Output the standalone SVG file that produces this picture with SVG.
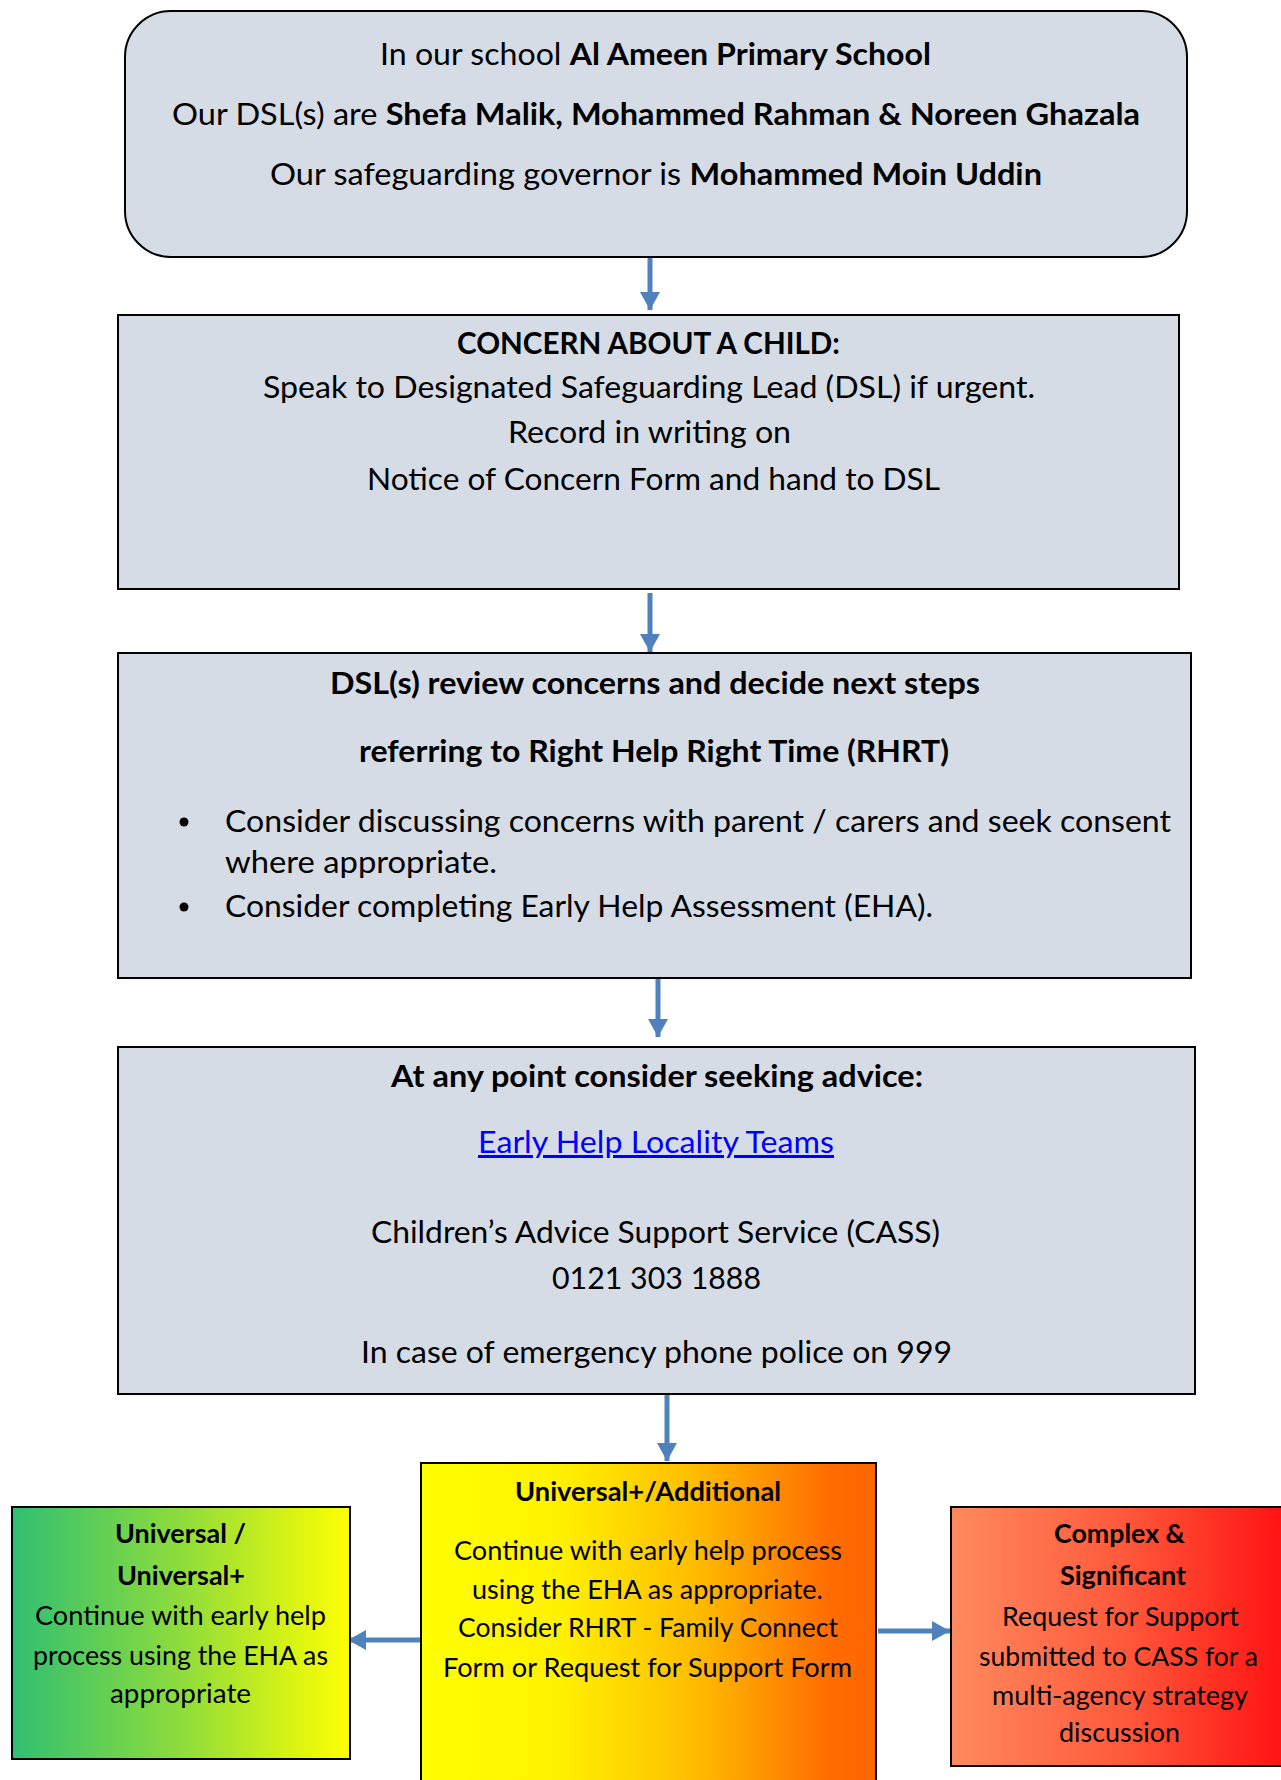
<svg xmlns="http://www.w3.org/2000/svg" width="1281" height="1780" viewBox="0 0 1281 1780">
<style>
  .box { fill: #d6dce5; stroke: #000; stroke-width: 2; }
  .lvl { stroke: #000; stroke-width: 2; }
  .t { font-family: Lato, "Open Sans", "Liberation Sans", sans-serif; font-size: 30px; fill: #000; text-anchor: middle; }
  .l { text-anchor: start; }
  .s { font-family: Lato, "Open Sans", "Liberation Sans", sans-serif; font-size: 26.5px; fill: #000; text-anchor: middle; }
  .b { font-weight: bold; }
  .link { fill: #0000ff; text-decoration: underline; }
  .arrow { stroke: #4f81bd; stroke-width: 5; fill: none; marker-end: url(#ah); }
</style>
<defs>
  <marker id="ah" markerUnits="userSpaceOnUse" markerWidth="18" markerHeight="20" refX="18" refY="10" orient="auto">
    <path d="M0,0 L18,10 L0,20 z" fill="#4f81bd"/>
  </marker>
  <linearGradient id="gGreen" x1="0" y1="0" x2="1" y2="0">
    <stop offset="0" stop-color="#30bf72"/>
    <stop offset="0.5" stop-color="#8edc3c"/>
    <stop offset="1" stop-color="#ffff00"/>
  </linearGradient>
  <linearGradient id="gYellow" x1="0" y1="0" x2="1" y2="0">
    <stop offset="0" stop-color="#ffff00"/>
    <stop offset="0.3" stop-color="#fff200"/>
    <stop offset="0.6" stop-color="#ffbd00"/>
    <stop offset="0.9" stop-color="#ff6c00"/>
    <stop offset="1" stop-color="#ff6600"/>
  </linearGradient>
  <linearGradient id="gRed" x1="0" y1="0" x2="1" y2="0">
    <stop offset="0" stop-color="#ff8a5e"/>
    <stop offset="0.5" stop-color="#ff5a3c"/>
    <stop offset="1" stop-color="#ff1010"/>
  </linearGradient>
</defs>

<g id="connectors">
  <line class="arrow" x1="650" y1="250" x2="650" y2="310"/>
  <line class="arrow" x1="650" y1="593" x2="650" y2="652"/>
  <line class="arrow" x1="658" y1="978" x2="658" y2="1037"/>
  <line class="arrow" x1="667" y1="1395" x2="667" y2="1461"/>
  <line class="arrow" x1="421" y1="1640" x2="348" y2="1640"/>
  <line class="arrow" x1="878" y1="1631" x2="950" y2="1631"/>
</g>

<g id="school-info">
  <rect class="box" x="125" y="11" width="1062" height="246" rx="46" ry="46"/>
  <text class="t" x="655.5" y="65" textLength="551" lengthAdjust="spacingAndGlyphs">In our school <tspan class="b">Al Ameen Primary School</tspan></text>
  <text class="t" x="656" y="125" textLength="968" lengthAdjust="spacingAndGlyphs">Our DSL(s) are <tspan class="b">Shefa Malik, Mohammed Rahman &amp; Noreen Ghazala</tspan></text>
  <text class="t" x="656" y="185" textLength="772" lengthAdjust="spacingAndGlyphs">Our safeguarding governor is <tspan class="b">Mohammed Moin Uddin</tspan></text>
</g>

<g id="concern">
  <rect class="box" x="118" y="315" width="1061" height="274"/>
  <text class="t b" x="648.5" y="354" textLength="383" lengthAdjust="spacingAndGlyphs">CONCERN ABOUT A CHILD:</text>
  <text class="t" x="649" y="398" textLength="772" lengthAdjust="spacingAndGlyphs">Speak to Designated Safeguarding Lead (DSL) if urgent.</text>
  <text class="t" x="649.5" y="443" textLength="283" lengthAdjust="spacingAndGlyphs">Record in writing on</text>
  <text class="t" x="653.5" y="490" textLength="573" lengthAdjust="spacingAndGlyphs">Notice of Concern Form and hand to DSL</text>
</g>

<g id="dsl-review">
  <rect class="box" x="118" y="653" width="1073" height="325"/>
  <text class="t b" x="655" y="694" textLength="650" lengthAdjust="spacingAndGlyphs">DSL(s) review concerns and decide next steps</text>
  <text class="t b" x="654" y="762" textLength="590" lengthAdjust="spacingAndGlyphs">referring to Right Help Right Time (RHRT)</text>
  <circle cx="184" cy="822" r="4.5" fill="#000"/>
  <text class="t l" x="225" y="832" textLength="946" lengthAdjust="spacingAndGlyphs">Consider discussing concerns with parent / carers and seek consent</text>
  <text class="t l" x="225" y="873" textLength="272" lengthAdjust="spacingAndGlyphs">where appropriate.</text>
  <circle cx="184" cy="907" r="4.5" fill="#000"/>
  <text class="t l" x="225" y="917" textLength="708" lengthAdjust="spacingAndGlyphs">Consider completing Early Help Assessment (EHA).</text>
</g>

<g id="advice">
  <rect class="box" x="118" y="1047" width="1077" height="347"/>
  <text class="t b" x="657" y="1087" textLength="532" lengthAdjust="spacingAndGlyphs">At any point consider seeking advice:</text>
  <text class="t link" x="656" y="1153" textLength="356" lengthAdjust="spacingAndGlyphs">Early Help Locality Teams</text>
  <text class="t" x="655.5" y="1243" textLength="569" lengthAdjust="spacingAndGlyphs">Children’s Advice Support Service (CASS)</text>
  <text class="t" x="656.5" y="1289" textLength="209" lengthAdjust="spacingAndGlyphs">0121 303 1888</text>
  <text class="t" x="656.5" y="1363" textLength="591" lengthAdjust="spacingAndGlyphs">In case of emergency phone police on 999</text>
</g>

<g id="universal">
  <rect class="lvl" x="12" y="1507" width="338" height="252" fill="url(#gGreen)"/>
  <text class="s b" x="180.5" y="1543" textLength="131" lengthAdjust="spacingAndGlyphs">Universal /</text>
  <text class="s b" x="181" y="1585" textLength="128" lengthAdjust="spacingAndGlyphs">Universal+</text>
  <text class="s" x="180.5" y="1625" textLength="291" lengthAdjust="spacingAndGlyphs">Continue with early help</text>
  <text class="s" x="180.5" y="1665" textLength="295" lengthAdjust="spacingAndGlyphs">process using the EHA as</text>
  <text class="s" x="180.5" y="1703" textLength="141" lengthAdjust="spacingAndGlyphs">appropriate</text>
</g>

<g id="additional">
  <rect class="lvl" x="421" y="1463" width="455" height="330" fill="url(#gYellow)"/>
  <text class="s b" x="648" y="1501" textLength="266" lengthAdjust="spacingAndGlyphs">Universal+/Additional</text>
  <text class="s" x="648" y="1560" textLength="388" lengthAdjust="spacingAndGlyphs">Continue with early help process</text>
  <text class="s" x="647.5" y="1599" textLength="351" lengthAdjust="spacingAndGlyphs">using the EHA as appropriate.</text>
  <text class="s" x="648" y="1637" textLength="380" lengthAdjust="spacingAndGlyphs">Consider RHRT - Family Connect</text>
  <text class="s" x="647.5" y="1677" textLength="409" lengthAdjust="spacingAndGlyphs">Form or Request for Support Form</text>
</g>

<g id="complex">
  <rect class="lvl" x="951" y="1507" width="340" height="259" fill="url(#gRed)"/>
  <text class="s b" x="1119.5" y="1543" textLength="131" lengthAdjust="spacingAndGlyphs">Complex &amp;</text>
  <text class="s b" x="1123" y="1585" textLength="126" lengthAdjust="spacingAndGlyphs">Significant</text>
  <text class="s" x="1120.5" y="1626" textLength="237" lengthAdjust="spacingAndGlyphs">Request for Support</text>
  <text class="s" x="1118.5" y="1666" textLength="279" lengthAdjust="spacingAndGlyphs">submitted to CASS for a</text>
  <text class="s" x="1120" y="1705" textLength="256" lengthAdjust="spacingAndGlyphs">multi-agency strategy</text>
  <text class="s" x="1119.5" y="1742" textLength="121" lengthAdjust="spacingAndGlyphs">discussion</text>
</g>
</svg>
